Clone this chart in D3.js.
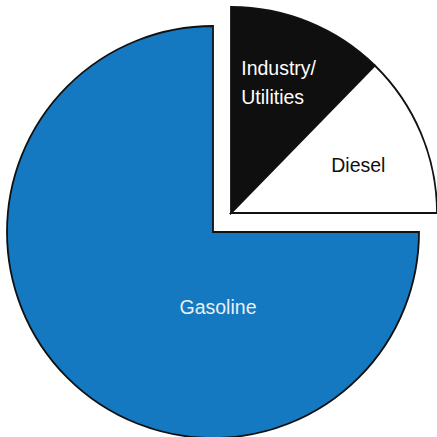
<!DOCTYPE html>
<html>
<head>
<meta charset="utf-8">
<script src="https://d3js.org/d3.v7.min.js"></script>
<style>
  body { margin: 0; background: #fff; }
  text { font-family: "Liberation Sans", Arial, Helvetica, sans-serif; }
</style>
</head>
<body>
<svg width="437" height="437"></svg>
<script>
  // pie data, starting at 12 o'clock going clockwise
  var categories = ['Industry/Utilities', 'Diesel', 'Gasoline'];
  var shares = [12.3, 12.7, 75];
  var colors = ['#0f0f0f', '#ffffff', '#1479c1'];
  var labelLines = [['Industry/', 'Utilities'], ['Diesel'], ['Gasoline']];
  var exploded = [true, true, false];

  var svg = d3.select('svg');
  var cx = 213, cy = 232, r = 206;
  var shift = [18, -19];

  var pie = d3.pie().sort(null).value(function(d) { return d; });
  var arcs = pie(shares);
  var arc = d3.arc().innerRadius(0).outerRadius(r);

  var g = svg.append('g').attr('transform', 'translate(' + cx + ',' + cy + ')');

  var slice = g.selectAll('g.slice')
    .data(arcs)
    .enter()
    .append('g')
    .attr('class', 'slice')
    .attr('transform', function(d, i) {
      return exploded[i] ? 'translate(' + shift[0] + ',' + shift[1] + ')' : null;
    });

  slice.append('path')
    .attr('d', arc)
    .attr('fill', function(d, i) { return colors[i]; })
    .attr('stroke', '#111')
    .attr('stroke-width', 1.8)
    .attr('stroke-linejoin', 'miter');

  // label positions (small nudges to sit like the original)
  var labelArc = d3.arc().innerRadius(136).outerRadius(136);
  var nudge = [[-41, -5], [2, 5], [0, 0]];
  slice.append('text')
    .attr('transform', function(d, i) {
      if (i == 2) return 'translate(5,75)';
      var c = labelArc.centroid(d);
      return 'translate(' + (c[0] + nudge[i][0]) + ',' + (c[1] + nudge[i][1]) + ')';
    })
    .attr('text-anchor', function(d, i) { return i == 0 ? 'start' : 'middle'; })
    .attr('font-size', 19.5)
    .attr('fill', function(d, i) { return i == 1 ? '#111' : (i == 2 ? '#e9f0f7' : '#fff'); })
    .each(function(d, i) {
      var lines = labelLines[i];
      var t = d3.select(this);
      lines.forEach(function(l, j) {
        t.append('tspan')
          .attr('x', 0)
          .attr('dy', j == 0 ? (7 - (lines.length - 1) * 14.5) : 29)
          .text(l);
      });
    });
</script>
</body>
</html>
